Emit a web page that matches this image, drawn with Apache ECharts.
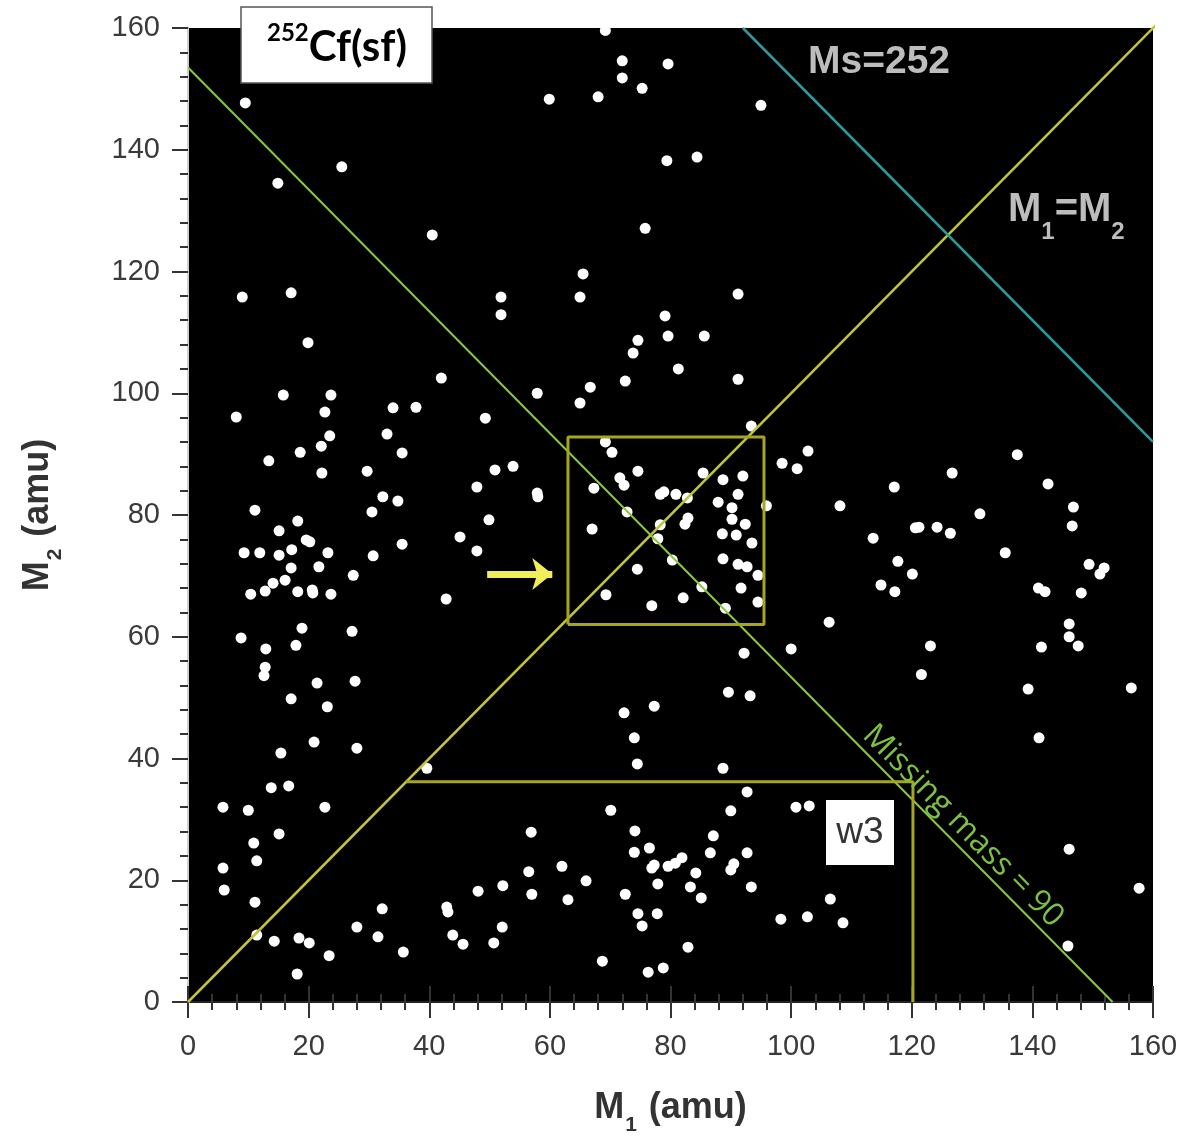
<!DOCTYPE html>
<html>
<head>
<meta charset="utf-8">
<script src="https://cdn.jsdelivr.net/npm/echarts@6/dist/echarts.min.js"></script>
<style>
  html, body { margin: 0; padding: 0; background: #fff; }
  #chart { width: 1181px; height: 1145px; }
</style>
</head>
<body>
<div id="chart"></div>
<script>
// fission fragment pairs (M1, M2)
var dotsUpper = [
    [9.5,147.7],[14.9,134.5],[25.5,137.2],[40.5,126.0],[9.0,115.8],[17.1,116.5],[19.9,108.3],[51.9,115.8],[51.9,112.9],
    [59.9,148.3],[68.0,148.7],[72.0,154.6],[72.0,151.8],[75.3,150.1],[79.6,154.1],[95.0,147.3],[69.2,159.6],
    [79.4,138.2],[84.4,138.8],[75.8,127.1],[65.5,119.6],[65.0,115.8],[91.2,116.3],[79.1,112.7],[79.6,109.4],
    [85.6,109.4],[74.6,108.7],[73.8,106.6]
];
var dotsLeft = [
    [42.0,102.5],[15.8,99.7],[23.7,99.7],[8.0,96.1],[22.7,96.9],[34.0,97.6],[37.8,97.7],[49.3,95.9],[23.5,93.0],
    [33.0,93.3],[22.1,91.3],[18.6,90.3],[35.5,90.2],[13.4,88.9],[22.2,86.9],[29.7,87.2],[50.9,87.4],[53.9,88.0],
    [47.9,84.6],[32.3,83.0],[34.8,82.3],[11.1,80.8],[30.5,80.5],[18.2,79.0],[49.9,79.2],[15.1,77.4],[19.6,75.9],
    [20.2,75.6],[45.1,76.4],[9.3,73.8],[11.9,73.8],[15.1,73.4],[17.2,74.3],[23.2,73.8],[35.5,75.2],[30.7,73.3],
    [47.9,74.1],[17.1,71.3],[21.7,71.5],[27.4,70.1],[16.1,69.3],[14.1,68.8],[12.8,67.5],[10.4,67.0],[18.2,67.4],
    [20.6,67.7],[20.7,67.2],[23.7,67.0],[42.8,66.2],[8.8,59.8],[18.9,61.4],[27.2,60.9],[12.9,58.0],[17.9,58.6],
    [12.8,55.0],[12.6,53.6]
];
var dotsLowerLeft = [
    [21.4,52.4],[27.7,52.7],[17.1,49.8],[23.1,48.5],[20.9,42.7],[28.0,41.7],[15.4,40.9],[39.6,38.4],[13.8,35.2],
    [16.7,35.5],[5.8,32.0],[10.0,31.5],[22.7,32.0],[15.1,27.6],[10.9,26.1],[11.4,23.2],[5.8,22.0],[6.0,18.4],
    [11.1,16.4],[48.1,18.2],[52.2,19.1],[32.2,15.3],[42.9,15.6],[43.1,14.8],[28.0,12.3],[31.5,10.7],[52.1,12.3],
    [43.9,11.0],[45.6,9.5],[50.7,9.7],[11.4,11.0],[14.3,10.0],[18.4,10.5],[20.1,9.7],[23.4,7.6],[35.7,8.2],[18.1,4.6]
];
var dotsCenter = [
    [81.3,104.0],[72.5,102.0],[91.2,102.3],[66.7,101.0],[57.9,100.0],[65.0,98.4],[93.4,94.6],[57.9,83.6],[58.0,83.0],
    [69.2,92.0],[70.3,90.3],[74.6,87.2],[71.6,86.1],[72.3,84.9],[67.3,84.4],[85.4,86.9],[88.7,85.8],[92.0,86.4],
    [78.3,83.4],[78.9,83.8],[80.9,83.4],[82.8,82.8],[87.9,82.1],[91.2,83.4],[90.2,81.2],[95.9,81.5],[72.8,80.5],
    [90.2,79.3],[82.9,79.5],[82.4,78.5],[92.4,78.5],[78.3,78.4],[67.0,77.7],[77.9,76.1],[88.6,76.9],[90.9,76.7],
    [93.5,75.4],[80.3,72.6],[88.7,72.8],[91.2,71.9],[92.7,71.5],[74.5,71.1],[94.5,70.1],[85.2,68.2],[91.7,68.0],
    [69.3,66.9],[82.1,66.4],[76.9,65.1],[89.1,64.7],[94.5,65.7],[106.3,62.4],[92.2,57.3],[100.0,58.0],[102.8,90.5],
    [98.5,88.5],[101.0,87.6]
];
var dotsRight = [
    [137.5,89.9],[126.7,86.9],[142.6,85.1],[117.1,84.6],[108.1,81.5],[146.8,81.3],[131.3,80.2],[146.6,78.2],
    [120.6,77.9],[121.2,78.0],[124.2,78.0],[126.4,77.0],[113.6,76.2],[135.5,73.8],[117.7,72.4],[149.4,71.9],
    [151.9,71.3],[151.2,70.3],[120.1,70.3],[114.9,68.5],[117.2,67.4],[141.0,68.0],[142.1,67.4],[148.1,67.2],
    [146.1,62.1],[146.1,60.0],[147.6,58.5],[141.5,58.3],[123.1,58.5],[121.6,53.8],
    [139.3,51.4],[156.4,51.6],[141.1,43.4],[146.1,25.1],[157.7,18.7],[145.9,9.2],[106.5,16.9],[108.6,13.0]
];
var dotsLowerCenter = [
    [89.6,50.9],[93.2,50.3],[72.3,47.5],[77.3,48.6],[74.0,43.4],[74.5,39.1],[88.7,38.4],[92.7,34.5],[70.1,31.5],
    [90.0,31.4],[100.8,32.0],[103.0,32.2],[56.9,27.9],[74.1,28.1],[87.1,27.3],[76.5,25.3],[74.0,24.6],[92.7,24.5],
    [86.6,24.5],[77.3,22.5],[76.9,22.0],[79.6,22.3],[80.8,22.8],[81.9,23.7],[90.5,22.7],[90.0,21.7],[56.5,21.4],
    [62.0,22.3],[84.2,21.2],[66.0,19.9],[77.9,19.4],[83.3,18.9],[57.0,17.7],[72.5,17.7],[93.4,18.9],[63.0,16.8],
    [85.1,17.1],[74.6,14.5],[77.8,14.5],[75.3,12.5],[98.3,13.6],[102.7,14.0],[82.9,9.0],[68.7,6.7],[76.3,4.9],[78.8,5.6]
];

// guide lines
var symLine = [[0,0],[162,162]];              // M1 = M2
var missingLine = [[0,153.5],[153.3,0]];      // missing mass = 90
var msLine = [[92,160],[160,92]];             // Ms = 252
var boxLine = [[63,62],[95.5,62],[95.5,92.8],[63,92.8],[63,62]];
var w3Line = [[36.2,36.2],[120.2,36.2],[120.2,0]];
var arrowFrom = [49.6,70.3], arrowTo = [60.4,70.3];

var axisTicks = [0,20,40,60,80,100,120,140,160];

var allDots = [].concat(dotsUpper, dotsLeft, dotsLowerLeft, dotsCenter, dotsRight, dotsLowerCenter);

var FONT = "'Liberation Sans', Arial, sans-serif";

function guide(data, color, width){
    return {
        type: 'line', data: data, showSymbol: false, symbol: 'none', clip: false, z: 5,
        lineStyle: {color: color, width: width}, silent: true, animation: false
    };
}

var nameRich = {
    b: {fontSize: 36, fontWeight: 'bold', color: '#333', fontFamily: FONT, verticalAlign: 'bottom', padding: [0, 0, 10, 0]},
    s: {fontSize: 21, fontWeight: 'bold', color: '#333', fontFamily: FONT, verticalAlign: 'bottom', padding: [0, 2, 0, 1]}
};

var chart = echarts.init(document.getElementById('chart'));

var baseAxis = {
    type: 'value', min: axisTicks[0], max: axisTicks[axisTicks.length - 1], interval: 20,
    splitLine: {show: false},
    axisLine: {show: true, lineStyle: {color: '#222', width: 2}},
    axisTick: {show: true, length: 16, lineStyle: {color: '#333', width: 2}},
    minorTick: {show: true, splitNumber: 5, length: 8, lineStyle: {color: '#333', width: 2}},
    axisLabel: {fontSize: 29, color: '#3a3a3a', fontFamily: FONT}
};

chart.setOption({
    animation: false,
    grid: {left: 188, top: 28, width: 965, height: 974, show: true, backgroundColor: '#000', borderWidth: 0},
    xAxis: [
        echarts.util.merge({
            position: 'bottom',
            name: '{b|M}{s|1}{b| (amu)}',
            nameLocation: 'middle', nameGap: 88,
            nameTextStyle: {rich: nameRich},
            axisLabel: {margin: 30}
        }, baseAxis, false),
        echarts.util.merge({
            position: 'top',
            axisLabel: {show: false}
        }, baseAxis, false)
    ],
    yAxis: [
        echarts.util.merge({
            position: 'left',
            name: '{b|M}{s|2}{b| (amu)}',
            nameLocation: 'middle', nameGap: 122, nameRotate: 90,
            nameTextStyle: {rich: nameRich},
            axisLabel: {margin: 28}
        }, baseAxis, false),
        {
            type: 'value', position: 'right', min: 0, max: 160, interval: 20,
            splitLine: {show: false},
            axisLine: {show: true, lineStyle: {color: '#cfcfcf', width: 2}},
            axisTick: {show: false}, axisLabel: {show: false}
        }
    ],
    series: [
        {
            type: 'scatter', data: allDots, symbolSize: 11, z: 3,
            itemStyle: {color: '#fff', opacity: 1}, silent: true
        },
        guide(symLine, '#c2c43a', 2.5),
        guide(missingLine, '#88c940', 2),
        guide(msLine, '#2a9c9c', 2.5),
        guide(boxLine, '#a5a521', 3),
        guide(w3Line, '#a5a521', 3),
        {
            type: 'line', data: [], z: 6,
            markLine: {
                silent: true, symbol: ['none', 'arrow'], symbolSize: [24, 20],
                label: {show: false},
                lineStyle: {color: '#f2ee5a', width: 7, type: 'solid'},
                data: [[{coord: arrowFrom}, {coord: arrowTo}]]
            }
        }
    ],
    graphic: [
        {type: 'rect', shape: {x: 241, y: 7, width: 191, height: 76}, style: {fill: '#fff', stroke: '#555', lineWidth: 1.5}, z: 10},
        {
            type: 'text', x: 337, y: 45, z: 11,
            style: {
                text: '{sup|252}{m|Cf(sf)}', align: 'center', verticalAlign: 'middle',
                rich: {
                    sup: {fontSize: 24, fontWeight: 'bold', fill: '#000', fontFamily: "Lato, 'Open Sans', sans-serif", verticalAlign: 'top'},
                    m: {fontSize: 42, fontWeight: 'bold', fill: '#000', fontFamily: "Lato, 'Open Sans', sans-serif", verticalAlign: 'top', padding: [5, 0, 0, 0]}
                }
            }
        },
        {type: 'rect', shape: {x: 826, y: 800, width: 68, height: 65}, style: {fill: '#fff'}, z: 10},
        {
            type: 'text', x: 860, y: 833, z: 11,
            style: {text: 'w3', fontSize: 37, fill: '#333', fontFamily: FONT, align: 'center', verticalAlign: 'middle'}
        },
        {
            type: 'text', x: 808, y: 62, z: 11,
            style: {text: 'Ms=252', fontSize: 39, fontWeight: 'bold', fill: '#bdbdbd', fontFamily: FONT, align: 'left', verticalAlign: 'middle'}
        },
        {
            type: 'text', x: 1008, y: 190, z: 11,
            style: {
                text: '{b|M}{s|1}{b|=M}{s|2}', align: 'left', verticalAlign: 'top',
                rich: {
                    b: {fontSize: 40, fontWeight: 'bold', fill: '#bdbdbd', fontFamily: FONT, verticalAlign: 'bottom', padding: [0, 0, 14, 0]},
                    s: {fontSize: 24, fontWeight: 'bold', fill: '#bdbdbd', fontFamily: FONT, verticalAlign: 'bottom'}
                }
            }
        },
        {
            type: 'text', x: 963, y: 826, rotation: -Math.PI / 4 - 0.005, z: 11,
            style: {text: 'Missing mass = 90', fontSize: 32, fill: '#7cc242', fontFamily: "'Open Sans', 'Liberation Sans', sans-serif", align: 'center', verticalAlign: 'middle'}
        }
    ]
});
</script>
</body>
</html>
